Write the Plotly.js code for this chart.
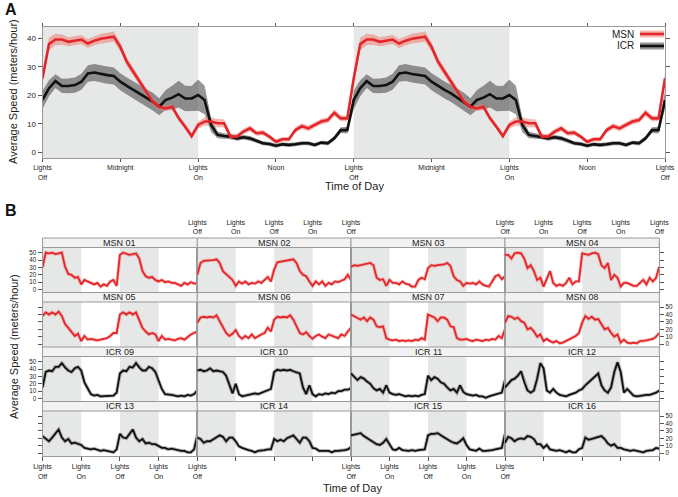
<!DOCTYPE html>
<html><head><meta charset="utf-8">
<script src="https://cdn.plot.ly/plotly-3.0.1.min.js"></script>
<style>html,body{margin:0;padding:0;background:#fff}#chart{width:678px;height:497px}</style>
</head><body><div id="chart"></div>
<script>
// ---------- Panel A data (30-min bins over one light/dark cycle, starting at Lights Off) ----------
const msnMean = [26,38,39.6,39.6,38.8,39.2,39.6,38.2,39.2,39.9,40.2,40.6,37,31.8,28.3,24.8,21.3,17.8,16,15.4,16,12,9,5.7,
  9.6,10.8,10.8,10.2,10.2,5.5,5.5,7.3,8.4,6.7,6.9,5.5,3.7,4.6,4.6,7.8,9.2,8.4,9.6,10.8,11.3,13.9,11.9,11.9];
const msnSem = [2.0,2.2,2.0,1.8,1.6,1.6,1.6,1.6,1.6,1.7,1.8,1.8,1.6,1.5,1.4,1.3,1.2,1.2,1.1,1.0,1.0,1.0,1.0,1.0,
  1.2,1.5,1.5,1.5,1.4,1.0,1.0,1.0,1.0,0.9,0.9,0.8,0.8,0.8,0.8,1.0,1.0,1.0,1.0,1.0,1.0,1.2,1.0,1.0];
const icrMean = [18.4,22.5,25,23.3,23.3,23.6,24.8,27.7,28,27.5,27.1,26.8,24.8,23.3,21.9,20.7,19.2,17.8,16,18.4,19.2,20.4,18.9,18.9,
  20.1,18.4,9.6,6.1,5.7,5.5,4.9,5.3,4.9,4.1,3.2,2.9,2.3,2.8,2.6,2.8,3.2,3.2,2.6,3.4,3.2,4.9,7.8,7.8];
const icrSem = [3.2,2.8,2.4,2.5,2.6,2.7,2.8,2.9,3.0,3.0,3.0,3.0,3.0,3.0,3.0,3.0,3.1,3.1,3.0,3.5,4.2,4.7,4.5,4.4,
  5.5,5.0,2.5,1.2,1.0,0.9,0.8,0.8,0.8,0.8,0.7,0.7,0.7,0.7,0.7,0.7,0.7,0.7,0.7,0.7,0.8,0.8,1.0,1.2];
const ticksA = ['Lights<br>Off','Midnight','Lights<br>On','Noon','Lights<br>Off','Midnight','Lights<br>On','Noon','Lights<br>Off'];

// ---------- Panel B data (hourly, 48 h per animal) ----------
const animalNames = ['MSN 01','MSN 02','MSN 03','MSN 04','MSN 05','MSN 06','MSN 07','MSN 08',
  'ICR 09','ICR 10','ICR 11','ICR 12','ICR 13','ICR 14','ICR 15','ICR 16'];
const msn01=[30,50,49,50,48,49,50,31,21,20,16,17,7,13,11,10,7,9,4,7,5,11,13,5,47,50,48,47,48,49,42,25,18,16,17,13,11,13,10,11,9,9,7,5,9,7,10,8,9];
const msn02=[20,36,39,39,39,40,41,36,25,21,16,13,5,11,8,11,7,9,8,11,9,13,17,11,27,37,38,39,39,40,41,36,25,20,18,11,5,11,7,11,5,9,7,11,10,12,14,20,13];
const msn03=[31,33,32,33,33,34,36,33,16,13,14,5,13,9,9,7,11,8,7,4,4,13,16,14,29,33,32,33,33,34,36,32,18,13,11,5,9,8,9,7,11,7,5,4,11,18,20,14,18];
const msn04=[47,47,42,49,50,49,42,29,33,25,13,16,4,16,25,9,5,7,5,9,16,7,11,11,49,48,47,49,50,48,33,29,36,13,20,16,4,9,9,7,5,5,9,13,7,16,11,16,31];
const msn05=[38,43,40,43,40,44,38,27,22,17,11,14,4,11,6,7,6,5,6,7,8,11,15,15,40,43,40,43,40,43,33,22,17,13,15,13,4,11,6,7,6,5,7,8,6,10,13,15,17];
const msn06=[29,36,37,36,37,36,39,31,22,15,11,14,19,11,7,11,8,13,8,11,13,15,22,17,33,37,36,37,36,39,33,24,15,13,16,11,7,11,13,10,8,13,11,10,8,13,11,17,22];
const msn07=[40,38,36,33,36,31,36,33,24,23,24,8,6,5,6,4,5,4,5,4,6,5,8,6,40,38,36,31,36,36,33,24,23,8,6,6,7,5,4,6,5,4,6,5,7,6,11,8,20];
const msn08=[29,38,37,34,36,31,29,20,22,17,10,13,4,7,4,2,4,1,2,4,6,8,11,15,29,38,34,37,33,34,27,20,22,15,10,13,2,6,2,1,2,1,4,4,5,6,7,10,15];
const icr09=[15,36,38,37,43,43,48,42,38,36,41,43,38,22,14,6,4,5,3,3,4,3,4,8,34,38,37,43,42,48,42,38,38,43,41,36,24,13,6,6,5,4,3,4,3,5,4,6,11];
const icr10=[38,39,37,38,41,37,38,37,36,31,18,7,20,6,3,4,5,6,7,6,8,9,11,13,36,39,38,39,38,39,37,36,34,15,6,18,6,3,6,5,7,6,8,7,10,10,12,12,14];
const icr11=[34,29,25,29,27,23,20,14,11,13,8,18,8,6,5,6,4,3,4,3,4,3,5,6,31,25,29,27,22,20,15,11,13,8,18,9,6,5,4,5,3,3,1,3,4,5,6,8,25];
const icr12=[15,20,25,27,31,37,22,11,8,11,27,48,41,11,8,13,8,5,4,3,5,6,8,11,13,18,22,25,29,34,18,11,8,15,36,49,36,8,13,8,4,3,4,4,5,5,6,8,11];
const icr13=[23,19,16,21,26,32,21,16,19,13,14,12,11,7,6,5,6,5,3,4,3,1,1,5,26,21,20,26,32,21,16,19,13,14,12,12,10,7,7,5,6,5,3,3,3,1,1,5,24];
const icr14=[21,19,14,16,16,19,21,24,22,16,21,21,16,9,7,5,4,3,1,3,3,4,5,5,19,16,18,16,20,22,24,19,14,21,21,16,7,6,3,3,3,3,1,3,3,3,4,5,8];
const icr15=[24,25,26,27,23,20,18,14,12,11,14,19,11,5,4,7,4,3,3,4,3,4,4,5,24,26,26,27,24,21,19,16,14,13,16,20,11,5,4,3,6,3,3,3,4,5,6,7,26];
const icr16=[14,22,20,16,19,20,19,23,22,19,12,12,7,11,5,4,3,4,3,1,3,1,1,5,7,21,18,19,21,22,23,19,13,10,12,7,7,5,4,3,4,3,1,1,3,3,4,7,6];
const animalSeries=[msn01,msn02,msn03,msn04,msn05,msn06,msn07,msn08,icr09,icr10,icr11,icr12,icr13,icr14,icr15,icr16];
const ticksB = ['Lights<br>Off','Lights<br>On','Lights<br>Off','Lights<br>On','Lights<br>Off'];

// ---------- geometry helpers ----------
const W=678,H=497;
const fx=x=>x/W, fy=y=>1-y/H;
const FONT='Liberation Sans, Arial, sans-serif';
const RED='#e3262c', REDBAND='rgba(239,125,112,0.55)', BLK='#111111', GRYBAND='rgba(80,80,80,0.6)';
const SHADE='#e6e7e7', AXC='#9a9a9a';

const traces=[], shapes=[], annotations=[];
const layout={width:W,height:H,margin:{l:0,r:0,t:0,b:0},paper_bgcolor:'#fff',plot_bgcolor:'#fff',
  showlegend:false,font:{family:FONT,color:'#222'},shapes,annotations};

// Panel A: double-plotted (two identical cycles)
const half = msnMean.map((_,i)=>i*0.5);
const xA = half.concat(half.map(h=>h+24)).concat([48]);
const dbl = a => a.concat(a).concat([a[0]]);
const mM=dbl(msnMean), mS=dbl(msnSem), iM=dbl(icrMean), iS=dbl(icrSem);
function band(mean,sem,color){
  traces.push({x:xA,y:mean.map((v,i)=>v-sem[i]),mode:'lines',line:{width:0},hoverinfo:'skip',xaxis:'x',yaxis:'y'});
  traces.push({x:xA,y:mean.map((v,i)=>v+sem[i]),mode:'lines',line:{width:0},fill:'tonexty',fillcolor:color,hoverinfo:'skip',xaxis:'x',yaxis:'y'});
}
band(iM,iS,GRYBAND);
band(mM,mS,REDBAND);
traces.push({x:xA,y:iM,mode:'lines',line:{color:BLK,width:2.6},xaxis:'x',yaxis:'y'});
traces.push({x:xA,y:mM,mode:'lines',line:{color:RED,width:2.6},xaxis:'x',yaxis:'y'});

const TICKC='#555';
layout.xaxis={domain:[fx(42.5),fx(665)],anchor:'y',range:[0,48],tickvals:[0,6,12,18,24,30,36,42,48],ticktext:ticksA,
  ticks:'outside',ticklen:3,tickcolor:TICKC,showline:true,linecolor:AXC,mirror:'ticks',showgrid:false,zeroline:false,
  tickfont:{size:7,family:FONT,color:'#222'}};
layout.yaxis={domain:[fy(158),fy(27)],anchor:'x',range:[-2,44],tickvals:[0,10,20,30,40],
  ticks:'outside',ticklen:4,tickcolor:TICKC,showline:true,linecolor:AXC,mirror:'ticks',showgrid:false,zeroline:false,
  tickfont:{size:8,family:FONT,color:'#222'}};
[[0,12],[24,36]].forEach(([a,b])=>shapes.push({type:'rect',xref:'x',yref:'y domain',x0:a,x1:b,y0:0,y1:1,fillcolor:SHADE,line:{width:0},layer:'below'}));

// Panel A legend
[['MSN',34,RED,REDBAND],['ICR',46,BLK,GRYBAND]].forEach(([t,y,c,bc])=>{
  annotations.push({text:t,xref:'paper',yref:'paper',x:fx(636),y:fy(y),xanchor:'right',yanchor:'middle',showarrow:false,font:{size:10,family:FONT,color:'#222'}});
  shapes.push({type:'rect',xref:'paper',yref:'paper',x0:fx(640),x1:fx(664),y0:fy(y+3.5),y1:fy(y-3.5),fillcolor:bc,line:{width:0}});
  shapes.push({type:'line',xref:'paper',yref:'paper',x0:fx(640),x1:fx(664),y0:fy(y),y1:fy(y),line:{color:c,width:2.6}});
});

// Panel B small multiples
const hoursB = msn01.map((_,i)=>i);
const colEdges=[42.5,197.3,351,505,659.3];
const rowsPx=[[247.5,292.5],[302,347],[356.5,401.5],[411,456]];
const stripH=9.5;
animalSeries.forEach((vals,i)=>{
  const n=i+2, r=Math.floor(i/4), c=i%4;
  const isMSN=i<8;
  traces.push({x:hoursB,y:vals,mode:'lines',line:{color:isMSN?'rgba(239,125,112,0.45)':'rgba(90,90,90,0.45)',width:3.6},xaxis:'x'+n,yaxis:'y'+n,hoverinfo:'skip'});
  traces.push({x:hoursB,y:vals,mode:'lines',line:{color:isMSN?RED:BLK,width:1.8},xaxis:'x'+n,yaxis:'y'+n});
  const xa={domain:[fx(colEdges[c]),fx(colEdges[c+1])],anchor:'y'+n,range:[0,48],tickvals:[0,12,24,36,48],ticktext:ticksB,
    showline:true,linecolor:AXC,mirror:true,showgrid:false,zeroline:false,ticklen:4,tickcolor:TICKC,
    tickfont:{size:7,family:FONT,color:'#222'}};
  if(r===0){xa.side='top';xa.ticks='outside';xa.showticklabels=(c%2===1);xa.ticklabelstandoff=6;}
  else if(r===3){xa.side='bottom';xa.ticks='outside';xa.showticklabels=(c%2===0);}
  else {xa.ticks='';xa.showticklabels=false;}
  const ya={domain:[fy(rowsPx[r][1]),fy(rowsPx[r][0])],anchor:'x'+n,range:[-4,57],tickvals:[0,10,20,30,40,50],
    showline:true,linecolor:AXC,mirror:true,showgrid:false,zeroline:false,ticklen:4,tickcolor:TICKC,
    tickfont:{size:6.3,family:FONT,color:'#222'}};
  if(c===0){ya.side='left';ya.ticks='outside';ya.showticklabels=(r%2===0);}
  else if(c===3){ya.side='right';ya.ticks='outside';ya.showticklabels=(r%2===1);}
  else {ya.ticks='';ya.showticklabels=false;}
  layout['xaxis'+n]=xa; layout['yaxis'+n]=ya;
  [[0,12],[24,36]].forEach(([a,b])=>shapes.push({type:'rect',xref:'x'+n,yref:'y'+n+' domain',x0:a,x1:b,y0:0,y1:1,fillcolor:SHADE,line:{width:0},layer:'below'}));
  // strip
  const sTop=rowsPx[r][0]-stripH;
  shapes.push({type:'rect',xref:'paper',yref:'paper',x0:fx(colEdges[c]),x1:fx(colEdges[c+1]),y0:fy(rowsPx[r][0]),y1:fy(sTop),fillcolor:'#f2f2f2',line:{color:AXC,width:1}});
  annotations.push({text:animalNames[i],xref:'paper',yref:'paper',x:fx((colEdges[c]+colEdges[c+1])/2),y:fy(sTop+stripH/2),
    xanchor:'center',yanchor:'middle',showarrow:false,font:{size:9,family:FONT,color:'#222'}});
});

// Titles and panel letters
const tfont={size:11,family:FONT,color:'#222'};
annotations.push({text:'Average Speed (meters/hour)',xref:'paper',yref:'paper',x:fx(13),y:fy(92),textangle:-90,showarrow:false,xanchor:'center',yanchor:'middle',font:tfont});
annotations.push({text:'Time of Day',xref:'paper',yref:'paper',x:fx(354),y:fy(186),showarrow:false,xanchor:'center',yanchor:'middle',font:tfont});
annotations.push({text:'Average Speed (meters/hour)',xref:'paper',yref:'paper',x:fx(14),y:fy(347),textangle:-90,showarrow:false,xanchor:'center',yanchor:'middle',font:tfont});
annotations.push({text:'Time of Day',xref:'paper',yref:'paper',x:fx(352),y:fy(488),showarrow:false,xanchor:'center',yanchor:'middle',font:tfont});
annotations.push({text:'<b>A</b>',xref:'paper',yref:'paper',x:fx(3),y:fy(9),showarrow:false,xanchor:'left',yanchor:'middle',font:{size:16,family:FONT,color:'#111'}});
annotations.push({text:'<b>B</b>',xref:'paper',yref:'paper',x:fx(3),y:fy(210),showarrow:false,xanchor:'left',yanchor:'middle',font:{size:16,family:FONT,color:'#111'}});

Plotly.newPlot('chart',traces,layout,{displayModeBar:false,staticPlot:true});
</script></body></html>
